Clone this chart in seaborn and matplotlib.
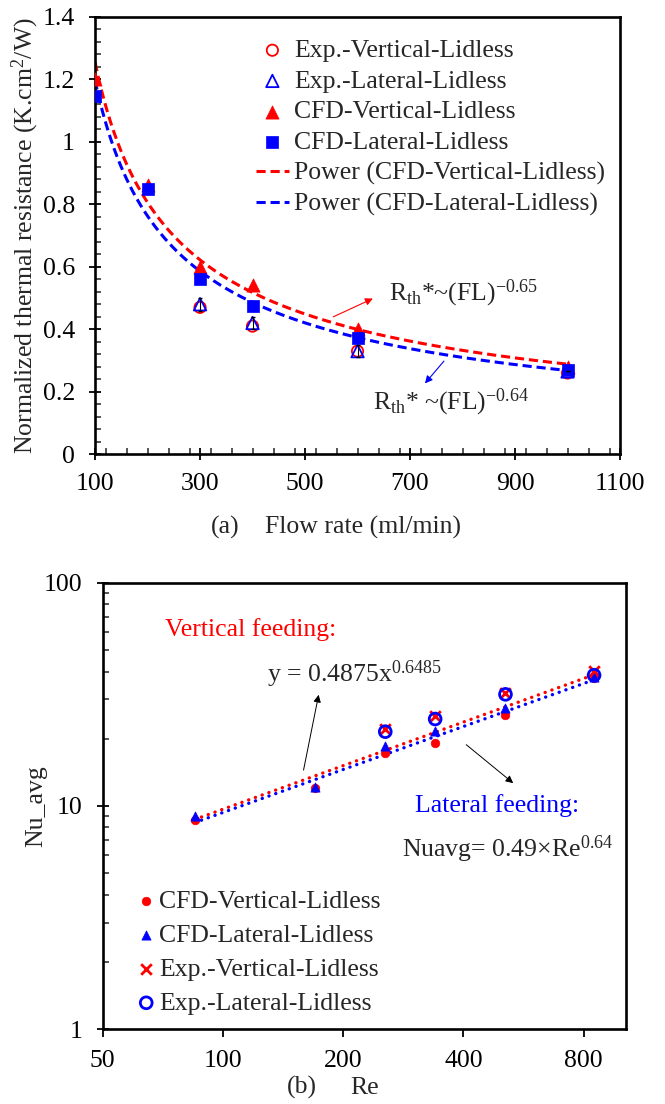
import numpy as np
import matplotlib
matplotlib.use("Agg")
import matplotlib.pyplot as plt
import seaborn as sns
from matplotlib.ticker import MultipleLocator, FixedLocator, FuncFormatter, NullFormatter, LogLocator, NullLocator

# ---------------- data (a) ----------------
flow = [100, 200, 300, 400, 600, 1000]
rth_cfd_vertical = [1.20, 0.86, 0.60, 0.54, 0.40, 0.28]
rth_cfd_lateral = [1.145, 0.85, 0.56, 0.475, 0.373, 0.269]
flow_exp = [300, 400, 600, 1000]
rth_exp_vertical = [0.47, 0.41, 0.33, 0.26]
rth_exp_lateral = [0.48, 0.42, 0.33, 0.265]
rth_exp_err = [0.02, 0.02, 0.02, 0.0]
xticks_a = [100, 300, 500, 700, 900, 1100]
yticks_a = [0, 0.2, 0.4, 0.6, 0.8, 1.0, 1.2, 1.4]

# ---------------- data (b) ----------------
re_cfd = [85, 170, 255, 340, 510, 850]
nu_cfd_vertical = [8.6, 12.0, 17.3, 19.2, 25.6, 37.5]
nu_cfd_lateral = [9.0, 12.1, 18.5, 21.7, 27.4, 37.9]
re_exp = [255, 340, 510, 850]
nu_exp_vertical = [22.2, 25.3, 32.0, 40.4]
nu_exp_lateral = [21.5, 24.5, 31.6, 38.5]
# trendline coefficients printed on the chart: Nu = a * Re^b
fit_vertical_b = [0.4875, 0.6485]
fit_lateral_b = [0.49, 0.64]
xticks_b = [50, 100, 200, 400, 800]
yticks_b = [1, 10, 100]

RED = "#FF0000"
BLUE = "#0000FF"
FS = 18.5

sns.set_theme(style="ticks")
plt.rcParams["font.family"] = ["Liberation Serif", "DejaVu Serif"]
plt.rcParams["mathtext.fontset"] = "custom"
plt.rcParams["mathtext.rm"] = "Liberation Serif"
plt.rcParams["mathtext.it"] = "Liberation Serif:italic"
plt.rcParams["mathtext.bf"] = "Liberation Serif:bold"
plt.rcParams["axes.unicode_minus"] = True


def power_fit(x, y):
    b, loga = np.polyfit(np.log(x), np.log(y), 1)
    return np.exp(loga), b


def style_axes(ax):
    for s in ax.spines.values():
        s.set_linewidth(1.9)
        s.set_color("black")
        s.set_visible(True)
    ax.tick_params(which="major", direction="inout", length=9, width=1.3,
                   labelsize=FS, colors="black")
    ax.tick_params(which="minor", direction="in", length=4, width=1.1)
    ax.tick_params(axis="x", which="major", pad=9)
    ax.tick_params(axis="y", which="major", pad=10)


fig = plt.figure(figsize=(6.65, 11.04), dpi=100)
ax1 = fig.add_axes([0.1429, 0.5885, 0.7895, 0.3964])
ax2 = fig.add_axes([0.1544, 0.0679, 0.7865, 0.4043])

# ================= (a) =================
sns.scatterplot(x=flow_exp, y=rth_exp_vertical, ax=ax1, marker="o", s=66,
                facecolor="none", edgecolor=RED, linewidth=1.3,
                label="Exp.-Vertical-Lidless", zorder=3)
sns.scatterplot(x=flow_exp, y=rth_exp_lateral, ax=ax1, marker="^", s=80,
                facecolor="none", edgecolor=BLUE, linewidth=1.3,
                label="Exp.-Lateral-Lidless", zorder=3)
ax1.errorbar(flow_exp, rth_exp_lateral, yerr=rth_exp_err, fmt="none",
             ecolor="black", elinewidth=0.8, capsize=1.5, zorder=4)
sns.scatterplot(x=flow, y=rth_cfd_vertical, ax=ax1, marker="^", s=90,
                color=RED, edgecolor=RED, linewidth=0.5,
                label="CFD-Vertical-Lidless", zorder=3)
sns.scatterplot(x=flow, y=rth_cfd_lateral, ax=ax1, marker="s", s=64,
                color=BLUE, edgecolor=BLUE, linewidth=0.5,
                label="CFD-Lateral-Lidless", zorder=3)

xs = np.linspace(min(flow), max(flow), 300)
av, bv = power_fit(flow, rth_cfd_vertical)
al, bl = power_fit(flow, rth_cfd_lateral)
sns.lineplot(x=xs, y=av * xs ** bv, ax=ax1, color=RED, linewidth=2.2,
             linestyle=(0, (3, 1.6)), label="Power (CFD-Vertical-Lidless)", zorder=2)
sns.lineplot(x=xs, y=al * xs ** bl, ax=ax1, color=BLUE, linewidth=2.2,
             linestyle=(0, (3, 1.6)), label="Power (CFD-Lateral-Lidless)", zorder=2)

ax1.set_xlim(100, 1100)
ax1.set_ylim(0, 1.4)
ax1.xaxis.set_major_locator(FixedLocator(xticks_a))
ax1.xaxis.set_minor_locator(MultipleLocator(40))
ax1.yaxis.set_major_locator(FixedLocator(yticks_a))
ax1.yaxis.set_minor_locator(MultipleLocator(0.04))
ax1.yaxis.set_major_formatter(FuncFormatter(lambda v, p: "%g" % v))
ax1.xaxis.set_major_formatter(FuncFormatter(lambda v, p: "%g" % v))
style_axes(ax1)

ax1.set_ylabel("Normalized thermal resistance (K.cm$^{2}$/W)", fontsize=FS, va="center")
ax1.yaxis.set_label_coords(-0.133, 0.5)
ax1.set_xlabel("Flow rate (ml/min)", fontsize=FS, va="center")
ax1.xaxis.set_label_coords(0.51, -0.168)
ax1.text(0.248, -0.168, "(a)", transform=ax1.transAxes, fontsize=FS,
         ha="center", va="center")

ax1.text(660, 0.515, r"R$_{\mathrm{th}}$*~(FL)$^{-0.65}$", fontsize=FS,
         ha="left", va="center")
ax1.text(630, 0.165, r"R$_{\mathrm{th}}$* ~(FL)$^{-0.64}$", fontsize=FS,
         ha="left", va="center")
ax1.annotate("", xy=(634, 0.502), xytext=(549, 0.436),
             arrowprops=dict(arrowstyle="-|>", color=RED, lw=0.8, mutation_scale=11))
ax1.annotate("", xy=(725, 0.22), xytext=(768, 0.305),
             arrowprops=dict(arrowstyle="-|>", color=BLUE, lw=0.8, mutation_scale=11))

order_a = ["Exp.-Vertical-Lidless", "Exp.-Lateral-Lidless", "CFD-Vertical-Lidless",
           "CFD-Lateral-Lidless", "Power (CFD-Vertical-Lidless)", "Power (CFD-Lateral-Lidless)"]
h, l = ax1.get_legend_handles_labels()
hd = dict(zip(l, h))
ax1.legend([hd[k] for k in order_a], order_a, loc="upper left",
           bbox_to_anchor=(0.306, 0.949), frameon=False, fontsize=FS,
           labelspacing=0.30, handlelength=1.3, handletextpad=0.2,
           borderaxespad=0, borderpad=0)

# ================= (b) =================
rs_line = np.geomspace(min(re_cfd), max(re_cfd), 60)
sns.lineplot(x=rs_line, y=fit_vertical_b[0] * rs_line ** fit_vertical_b[1], ax=ax2,
             color=RED, linewidth=2.4, linestyle=(0, (0.05, 2.1)),
             dash_capstyle="round", zorder=2)
sns.lineplot(x=rs_line, y=fit_lateral_b[0] * rs_line ** fit_lateral_b[1], ax=ax2,
             color=BLUE, linewidth=2.4, linestyle=(0, (0.05, 2.1)),
             dash_capstyle="round", zorder=2)

sns.scatterplot(x=re_cfd, y=nu_cfd_vertical, ax=ax2, marker="o", s=38,
                color=RED, edgecolor=RED, linewidth=0.5,
                label="CFD-Vertical-Lidless", zorder=3)
sns.scatterplot(x=re_cfd, y=nu_cfd_lateral, ax=ax2, marker="^", s=44,
                color=BLUE, edgecolor=BLUE, linewidth=0.5,
                label="CFD-Lateral-Lidless", zorder=3)
sns.scatterplot(x=re_exp, y=nu_exp_vertical, ax=ax2, marker="x", s=58,
                color=RED, linewidth=2.0,
                label="Exp.-Vertical-Lidless", zorder=3)
sns.scatterplot(x=re_exp, y=nu_exp_lateral, ax=ax2, marker="o", s=72,
                facecolor="none", edgecolor=BLUE, linewidth=2.0,
                label="Exp.-Lateral-Lidless", zorder=4)

ax2.set_xscale("log")
ax2.set_yscale("log")
ax2.set_xlim(50, 1020)
ax2.set_ylim(1, 100)
ax2.xaxis.set_major_locator(FixedLocator(xticks_b))
ax2.xaxis.set_minor_locator(NullLocator())
ax2.xaxis.set_major_formatter(FuncFormatter(lambda v, p: "%g" % v))
ax2.xaxis.set_minor_formatter(NullFormatter())
ax2.yaxis.set_major_locator(FixedLocator(yticks_b))
ax2.yaxis.set_minor_locator(LogLocator(base=10, subs=np.arange(2, 10)))
ax2.yaxis.set_major_formatter(FuncFormatter(lambda v, p: "%g" % v))
ax2.yaxis.set_minor_formatter(NullFormatter())
style_axes(ax2)
ax2.tick_params(axis="x", which="major", direction="out", length=6, pad=9)

ax2.set_ylabel("Nu_avg", fontsize=FS, va="center")
ax2.yaxis.set_label_coords(-0.1275, 0.5)
ax2.set_xlabel("Re", fontsize=FS, va="center")
ax2.xaxis.set_label_coords(0.5015, -0.131)
ax2.text(0.381, -0.131, "(b)", transform=ax2.transAxes, fontsize=FS,
         ha="center", va="center")

ax2.text(0.119, 0.896, "Vertical feeding:", transform=ax2.transAxes, color=RED,
         fontsize=FS, ha="left", va="center")
ax2.text(0.314, 0.795, r"y = 0.4875x$^{0.6485}$", transform=ax2.transAxes,
         fontsize=FS, ha="left", va="center")
ax2.text(0.597, 0.50, "Lateral feeding:", transform=ax2.transAxes, color=BLUE,
         fontsize=FS, ha="left", va="center")
ax2.text(0.572, 0.402, r"Nuavg= 0.49×Re$^{0.64}$", transform=ax2.transAxes,
         fontsize=FS, ha="left", va="center")
ax2.annotate("", xy=(0.414, 0.755), xytext=(0.383, 0.574), xycoords="axes fraction",
             textcoords="axes fraction",
             arrowprops=dict(arrowstyle="-|>", color="black", lw=0.7, mutation_scale=11))
ax2.annotate("", xy=(0.789, 0.547), xytext=(0.691, 0.641), xycoords="axes fraction",
             textcoords="axes fraction",
             arrowprops=dict(arrowstyle="-|>", color="black", lw=0.7, mutation_scale=11))

order_b = ["CFD-Vertical-Lidless", "CFD-Lateral-Lidless", "Exp.-Vertical-Lidless",
           "Exp.-Lateral-Lidless"]
h2, l2 = ax2.get_legend_handles_labels()
hd2 = dict(zip(l2, h2))
ax2.legend([hd2[k] for k in order_b], order_b, loc="upper left",
           bbox_to_anchor=(0.071, 0.311), frameon=False, fontsize=FS,
           labelspacing=0.42, handlelength=0.5, handletextpad=0.25,
           borderaxespad=0, borderpad=0)

fig.savefig("out.png", dpi=100)
